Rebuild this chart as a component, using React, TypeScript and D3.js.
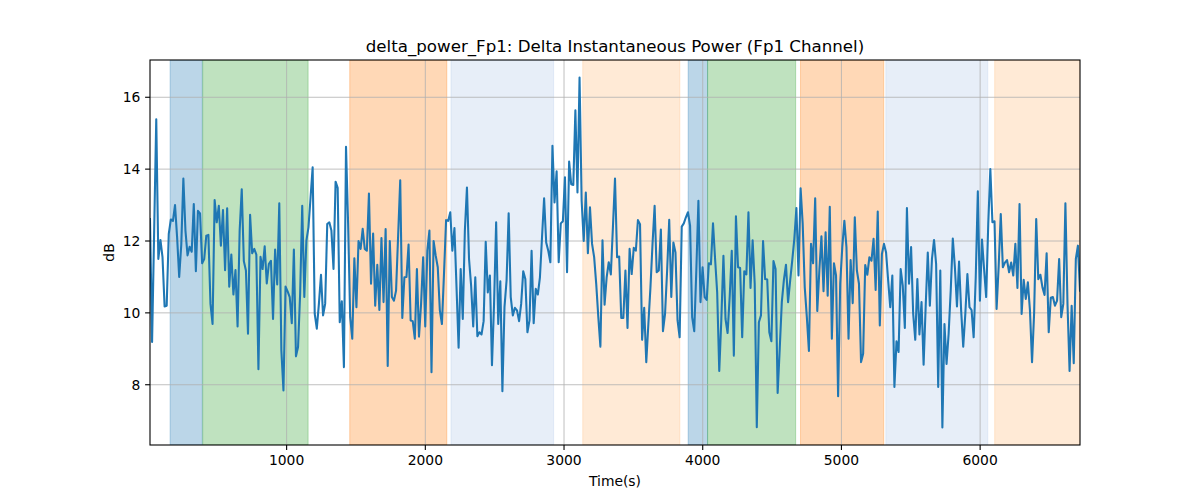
import React from "react";
import * as d3 from "d3";

// Delta instantaneous power (dB), sampled on a regular time grid
const deltaPower: number[] = [
  12.61, 9.19, 12.3, 15.39, 11.5, 12.03, 11.55, 10.18, 10.2, 12.2, 12.6, 12.56, 13.0, 12.1, 11.0, 11.9, 13.74, 12.29, 11.6, 11.84, 11.7, 13.03, 11.16, 12.84, 12.77, 11.38, 11.5, 12.15, 12.17, 10.25, 9.69, 13.14, 12.52, 12.98, 11.87, 12.86, 11.19, 12.91, 10.73, 11.62, 10.51, 11.19, 9.62, 12.29, 13.44,
  11.44, 11.18, 9.42, 12.73, 11.66, 11.78, 11.62, 8.43, 11.56, 11.22, 11.85, 10.82, 11.36, 11.45, 9.83, 11.76, 10.79, 13.05, 8.95, 7.84, 10.73, 10.6, 10.44, 9.71, 11.76, 8.79, 9.05, 10.53, 12.98, 10.44, 12.01, 12.38, 13.21, 14.05, 9.97, 9.56, 10.25, 11.06, 9.93, 10.25, 12.47, 12.52, 12.29, 11.22,
  13.65, 13.48, 9.74, 10.32, 8.49, 14.62, 12.5, 9.88, 9.28, 11.52, 10.16, 12.0, 11.78, 12.34, 11.78, 11.73, 13.32, 10.81, 12.21, 10.2, 11.34, 10.08, 12.08, 10.3, 12.33, 8.52, 12.0, 10.44, 10.34, 10.62, 12.15, 13.69, 9.86, 10.99, 11.0, 11.9, 9.79, 9.77, 9.28, 11.22, 9.34, 10.25, 11.55, 9.62, 11.73,
  12.29, 8.35, 12.0, 11.6, 11.27, 10.07, 9.69, 11.1, 12.58, 12.56, 12.8, 11.73, 12.36, 10.71, 9.03, 11.22, 9.83, 12.29, 13.49, 11.5, 10.76, 9.62, 10.99, 9.35, 9.46, 9.4, 9.77, 11.98, 10.57, 11.04, 8.54, 10.25, 12.52, 9.69, 10.88, 7.82, 10.16, 10.9, 12.77, 10.44, 9.93, 10.14, 10.07, 9.77,
  10.25, 11.16, 10.94, 9.46, 9.79, 11.73, 9.71, 10.67, 10.51, 10.99, 12.1, 13.19, 11.96, 11.73, 11.41, 14.65, 13.07, 13.94, 11.41, 12.49, 12.55, 13.77, 11.13, 14.21, 13.58, 13.56, 15.64, 13.35, 16.55, 13.12, 12.0, 13.35, 11.66, 12.94, 11.92, 11.55, 10.8, 9.88, 9.06, 12.02, 10.23, 10.99, 11.41, 11.07, 12.38,
  13.74, 11.55, 11.57, 9.86, 9.86, 11.18, 9.58, 11.78, 11.08, 11.81, 11.73, 12.58, 12.47, 9.25, 10.14, 8.63, 9.69, 10.71, 11.92, 12.98, 11.13, 11.18, 12.32, 9.49, 9.97, 11.18, 12.59, 10.44, 11.96, 11.68, 9.79, 9.32, 12.4, 12.49, 12.66, 12.8, 12.43, 9.88, 9.49, 11.18, 13.12, 10.3, 11.27, 10.44, 10.36,
  11.38, 11.35, 12.49, 11.5, 10.57, 8.38, 9.83, 11.59, 9.83, 9.44, 10.44, 11.73, 8.81, 12.69, 11.27, 11.25, 9.32, 11.16, 11.07, 12.8, 10.69, 12.02, 10.81, 6.82, 9.74, 9.93, 12.0, 10.94, 10.93, 9.46, 9.21, 11.44, 11.22, 7.77, 9.0, 10.3, 10.92, 11.34, 10.3, 10.9, 11.46, 12.06, 12.92, 11.04,
  13.47, 12.49, 10.71, 9.88, 8.94, 11.92, 11.38, 13.19, 10.05, 11.18, 12.13, 10.6, 12.24, 10.48, 12.95, 9.28, 11.38, 11.04, 7.68, 10.81, 11.83, 12.56, 11.83, 9.28, 11.47, 10.27, 12.66, 11.18, 10.81, 8.63, 8.86, 11.33, 11.06, 11.55, 11.45, 12.06, 10.64, 12.82, 9.65, 11.64, 11.92, 11.68, 10.9, 10.16, 11.04,
  7.94, 9.21, 8.91, 11.22, 10.76, 9.58, 12.92, 10.81, 11.83, 9.97, 9.25, 10.94, 9.4, 10.3, 8.56, 10.2, 11.68, 10.2, 11.5, 12.03, 11.36, 7.94, 11.18, 6.81, 9.69, 8.58, 9.42, 10.62, 12.07, 11.27, 10.18, 11.43, 10.07, 9.06, 9.97, 11.08, 10.16, 10.08, 9.32, 10.99, 13.38, 10.34, 12.04, 11.22, 10.44,
  12.47, 14.0, 12.52, 12.55, 10.11, 11.3, 12.75, 11.27, 11.4, 11.47, 11.13, 11.4, 11.04, 11.92, 10.69, 13.03, 9.97, 10.92, 10.39, 10.85, 10.07, 8.63, 10.0, 12.61, 10.94, 11.06, 10.71, 10.5, 11.66, 9.46, 10.42, 10.44, 10.2, 10.34, 11.5, 9.88, 10.25, 13.05, 10.25, 8.38, 10.2, 8.6, 11.5, 11.87, 10.62,
];

const timeStart = 15;
const timeEnd = 6720;

// Shaded spans (seconds)
const spanStarts = [160, 395, 1455, 2185, 3135, 3895, 4035, 4705, 5320, 6105];
const spanEnds = [392, 1155, 2155, 2925, 3835, 4035, 4670, 5305, 6055, 6720];
const spanColors = ["#1f77b4", "#2ca02c", "#ff7f0e", "#aec7e8", "#ffbb78", "#1f77b4", "#2ca02c", "#ff7f0e", "#aec7e8", "#ffbb78"];

const xTicks = [1000, 2000, 3000, 4000, 5000, 6000];
const yTicks = [8, 10, 12, 14, 16];

const W = 1200;
const H = 500;
const L = 150;
const R = 1080;
const T = 60;
const B = 445;
const FONT = "DejaVu Sans, sans-serif";

export default function App() {
  const step = (timeEnd - timeStart) / (deltaPower.length - 1);
  const times = deltaPower.map((_, i) => timeStart + i * step);
  const x = d3.scaleLinear().domain([timeStart, timeEnd]).range([L, R]);
  const [mn, mx] = d3.extent(deltaPower) as [number, number];
  const pad = (mx - mn) * 0.05;
  const y = d3.scaleLinear().domain([mn - pad, mx + pad]).range([B, T]);
  const line = d3
    .line<number>()
    .x((_, i) => x(times[i]))
    .y((d) => y(d));

  return (
    <svg
      width={W}
      height={H}
      style={{ position: "absolute", left: 0, top: 0, background: "#fff" }}
      fontFamily={FONT}
    >
      <rect x={0} y={0} width={W} height={H} fill="#fff" />
      <defs>
        <clipPath id="plotclip">
          <rect x={L} y={T} width={R - L} height={B - T} />
        </clipPath>
      </defs>
      <g clipPath="url(#plotclip)">
        {spanStarts.map((s, i) => (
          <rect
            key={i}
            x={x(s)}
            y={T}
            width={x(spanEnds[i]) - x(s)}
            height={B - T}
            fill={spanColors[i]}
            fillOpacity={0.3}
            stroke={spanColors[i]}
            strokeOpacity={0.3}
            strokeWidth={1}
          />
        ))}
        {xTicks.map((t) => (
          <line key={"gx" + t} x1={x(t)} x2={x(t)} y1={T} y2={B} stroke="#b0b0b0" strokeWidth={0.8} />
        ))}
        {yTicks.map((t) => (
          <line key={"gy" + t} x1={L} x2={R} y1={y(t)} y2={y(t)} stroke="#b0b0b0" strokeWidth={0.8} />
        ))}
        <path d={line(deltaPower) || ""} fill="none" stroke="#1f77b4" strokeWidth={2.08} strokeLinejoin="round" strokeLinecap="square" />
      </g>
      <rect x={L} y={T} width={R - L} height={B - T} fill="none" stroke="#000" strokeWidth={1.1} />
      {xTicks.map((t) => (
        <g key={"tx" + t}>
          <line x1={x(t)} x2={x(t)} y1={B} y2={B + 4.9} stroke="#000" strokeWidth={1.1} />
          <text x={x(t)} y={B + 19.8} textAnchor="middle" fontSize={13.89} fill="#000">
            {t}
          </text>
        </g>
      ))}
      {yTicks.map((t) => (
        <g key={"ty" + t}>
          <line x1={L - 4.9} x2={L} y1={y(t)} y2={y(t)} stroke="#000" strokeWidth={1.1} />
          <text x={L - 9.7} y={y(t) + 5} textAnchor="end" fontSize={13.89} fill="#000">
            {t}
          </text>
        </g>
      ))}
      <text x={(L + R) / 2} y={51.7} textAnchor="middle" fontSize={16.67} fill="#000">
        delta_power_Fp1: Delta Instantaneous Power (Fp1 Channel)
      </text>
      <text x={(L + R) / 2} y={486} textAnchor="middle" fontSize={13.89} fill="#000">
        Time(s)
      </text>
      <text
        transform={`translate(${114},${(T + B) / 2}) rotate(-90)`}
        textAnchor="middle"
        fontSize={13.89}
        fill="#000"
      >
        dB
      </text>
    </svg>
  );
}
